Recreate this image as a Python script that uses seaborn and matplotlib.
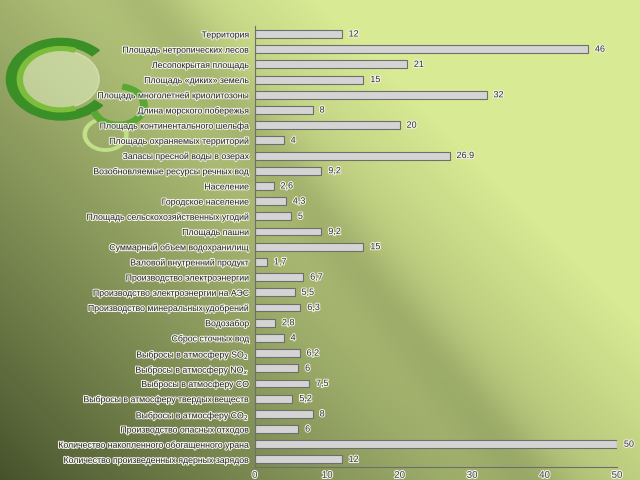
import numpy as np
import pandas as pd
import matplotlib
matplotlib.use("Agg")
import matplotlib.pyplot as plt
import matplotlib.patheffects as pe
from matplotlib.patches import Wedge, Circle
import seaborn as sns

# Share of the world total, %
indicators = [
    "Территория",
    "Площадь нетропических лесов",
    "Лесопокрытая площадь",
    "Площадь «диких» земель",
    "Площадь многолетней криолитозоны",
    "Длина морского побережья",
    "Площадь континентального шельфа",
    "Площадь охраняемых территорий",
    "Запасы пресной воды в озерах",
    "Возобновляемые ресурсы речных вод",
    "Население",
    "Городское население",
    "Площадь сельскохозяйственных угодий",
    "Площадь пашни",
    "Суммарный объем водохранилищ",
    "Валовой внутренний продукт",
    "Производство электроэнергии",
    "Производство электроэнергии на АЭС",
    "Производство минеральных удобрений",
    "Водозабор",
    "Сброс сточных вод",
    "Выбросы в атмосферу SO$_2$",
    "Выбросы в атмосферу NO$_x$",
    "Выбросы в атмосферу CO",
    "Выбросы в атмосферу твердых веществ",
    "Выбросы в атмосферу CO$_2$",
    "Производство опасных отходов",
    "Количество накопленного обогащенного урана",
    "Количество произведенных ядерных зарядов",
]
shares = [12, 46, 21, 15, 32, 8, 20, 4, 26.9, 9.2, 2.6, 4.3, 5, 9.2, 15, 1.7,
          6.7, 5.5, 6.3, 2.8, 4, 6.2, 6, 7.5, 5.2, 8, 6, 50, 12]
value_labels = ["12", "46", "21", "15", "32", "8", "20", "4", "26.9", "9,2",
                "2,6", "4,3", "5", "9,2", "15", "1,7", "6,7", "5,5", "6,3",
                "2,8", "4", "6,2", "6", "7,5", "5,2", "8", "6", "50", "12"]
x_ticks = [0, 10, 20, 30, 40, 50]

df = pd.DataFrame({"indicator": indicators, "share": shares})

sns.set_style("white")
plt.rcParams["font.family"] = ["Liberation Sans", "DejaVu Sans"]

fig = plt.figure(figsize=(6.4, 4.8), dpi=100)

# green slide background (light top-right, dark olive bottom-left)
bg = fig.add_axes([0, 0, 1, 1], zorder=0)
xx, yy = np.meshgrid(np.linspace(0, 1, 320), np.linspace(0, 1, 240))
d = np.clip((xx * 1.0 + (1 - yy) * 0.75) / 1.25, 0, 1)
streak = 0.12 * np.exp(-((xx - 0.44 - (yy - 0.35) * 0.6) ** 2) / 0.004)
dark = np.array([0.27, 0.32, 0.17])
light = np.array([0.85, 0.92, 0.58])
t = np.clip(d ** 0.9 - streak, 0, 1)[..., None]
img = dark + (light - dark) * t
bg.imshow(img, extent=[0, 1, 0, 1], aspect="auto", origin="upper")
bg.set_xlim(0, 1)
bg.set_ylim(0, 1)
bg.axis("off")

# logo swirls
bg.add_patch(Circle((0.095, 0.835), 0.06, color="#e4f0c4", alpha=0.55,
                    transform=bg.transAxes))
for (cx, cy, r, w, t1, t2, col) in [
    (0.095, 0.835, 0.085, 0.016, 45, 320, "#3a8f26"),
    (0.095, 0.835, 0.068, 0.008, 70, 290, "#7dbd3c"),
    (0.185, 0.78, 0.045, 0.010, 200, 80, "#58a832"),
    (0.165, 0.72, 0.035, 0.005, 120, 40, "#c2e088"),
]:
    bg.add_patch(Wedge((cx, cy), r, t1, t2, width=w, color=col,
                       transform=bg.transAxes))

ax = fig.add_axes([0.398, 0.027, 0.566, 0.918], zorder=1)
ax.patch.set_alpha(0)

sns.barplot(data=df, x="share", y="indicator", orient="h", color="#d4d4d4",
            edgecolor="#6e6e6e", linewidth=0.8, width=0.52, ax=ax)

halo = [pe.withStroke(linewidth=1.5, foreground="#f2f2e8")]
ax.bar_label(ax.containers[0], labels=value_labels, padding=5,
             fontsize=6.5, color="#333333", path_effects=halo)

ax.set_xlim(0, 50)
ax.set_xticks(x_ticks)
ax.set_xlabel("")
ax.set_ylabel("")
ax.tick_params(axis="x", labelsize=7, colors="#444444", length=0, pad=2)
ax.tick_params(axis="y", labelsize=6.3, colors="#222222", length=2, pad=2)
for lbl in ax.get_yticklabels() + ax.get_xticklabels():
    lbl.set_path_effects(halo)
sns.despine(ax=ax, top=True, right=True)
for s in ["left", "bottom"]:
    ax.spines[s].set_color("#6e6e6e")
    ax.spines[s].set_linewidth(0.8)

fig.savefig("out.png", dpi=100)
